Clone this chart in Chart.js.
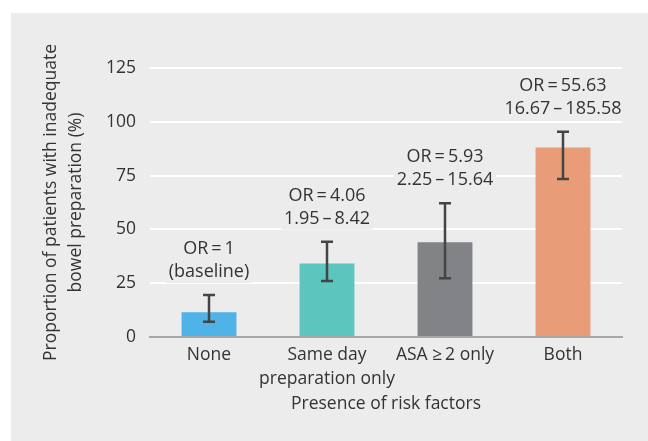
<!DOCTYPE html>
<html>
<head>
<meta charset="utf-8">
<script src="https://cdn.jsdelivr.net/npm/chart.js@4.4.1/dist/chart.umd.min.js"></script>
<style>
  html, body { margin: 0; padding: 0; background: #fff; }
  #wrap { width: 648px; height: 441px; }
</style>
</head>
<body>
<div id="wrap"><canvas id="riskChart"></canvas></div>
<script>
const categories = ['None', ['Same day', 'preparation only'], 'ASA \u2265\u20092 only', 'Both'];
const proportions = [11.5, 34.2, 44.0, 88.1];
const errLow = [7.1, 26.0, 27.3, 73.4];
const errHigh = [19.5, 44.3, 62.1, 95.4];
const orText = [
  ['OR\u2009=\u20091', '(baseline)'],
  ['OR\u2009=\u20094.06', '1.95\u2009\u2013\u20098.42'],
  ['OR\u2009=\u20095.93', '2.25\u2009\u2013\u200915.64'],
  ['OR\u2009=\u200955.63', '16.67\u2009\u2013\u2009185.58'],
];
const barColors = ['#4fb3e7', '#5bc5be', '#828386', '#e99c78'];

const panelGrey = '#ebeceb';
const textColor = '#333333';
const fontFamily = '"Open Sans", "Noto Sans", sans-serif';

// grey panel behind the chart
const panelBg = {
  id: 'panelBg',
  beforeDraw(chart) {
    const c = chart.ctx;
    c.save();
    c.fillStyle = '#ffffff';
    c.fillRect(0, 0, chart.width, chart.height);
    c.fillStyle = panelGrey;
    c.fillRect(11, 13, chart.width - 11, chart.height - 13);
    c.restore();
  }
};

// error bars + OR labels above them
const errorBars = {
  id: 'errorBars',
  afterDatasetsDraw(chart) {
    const c = chart.ctx;
    const y = chart.scales.y;
    const meta = chart.getDatasetMeta(0);
    c.save();
    meta.data.forEach((bar, i) => {
      const top = y.getPixelForValue(errHigh[i]);
      const bot = y.getPixelForValue(errLow[i]);
      c.strokeStyle = '#444444';
      c.lineWidth = 2.5;
      c.beginPath();
      c.moveTo(bar.x, top); c.lineTo(bar.x, bot);
      c.moveTo(bar.x - 6, top); c.lineTo(bar.x + 6, top);
      c.moveTo(bar.x - 6, bot); c.lineTo(bar.x + 6, bot);
      c.stroke();

      c.font = '18px ' + fontFamily;
      c.textAlign = 'center';
      c.textBaseline = 'middle';
      const lines = orText[i];
      lines.forEach((t, k) => {
        const ly = top - 23 - (lines.length - 1 - k) * 23;
        const w = c.measureText(t).width;
        c.fillStyle = panelGrey;
        c.fillRect(bar.x - w / 2 - 3, ly - 11, w + 6, 22);
        c.fillStyle = textColor;
        c.fillText(t, bar.x, ly);
      });
    });
    c.restore();
  }
};

const riskData = {
  labels: categories,
  datasets: [{
    data: proportions,
    backgroundColor: barColors,
    borderWidth: 0,
    barPercentage: 0.93,
    categoryPercentage: 0.5,
  }]
};

const riskConfig = {
  type: 'bar',
  data: riskData,
  options: {
    responsive: true,
    maintainAspectRatio: false,
    animation: false,
    layout: { padding: { left: 0, right: 26, top: 68, bottom: 0 } },
    plugins: {
      legend: { display: false },
      tooltip: { enabled: false },
    },
    scales: {
      y: {
        min: 0,
        max: 125,
        ticks: {
          stepSize: 25,
          color: textColor,
          padding: 14,
          font: { family: fontFamily, size: 17.5 },
        },
        grid: { color: '#ffffff', lineWidth: 2, drawTicks: false },
        border: { display: false },
        title: {
          display: true,
          text: ['Proportion of patients with inadequate', 'bowel preparation (%)'],
          color: textColor,
          font: { family: fontFamily, size: 17.5, lineHeight: 1.4 },
          padding: { top: 39, bottom: 0 },
        },
        afterFit: (scale) => { scale.width = 150; },
      },
      x: {
        ticks: {
          color: textColor,
          padding: 6,
          maxRotation: 0,
          minRotation: 0,
          autoSkip: false,
          font: { family: fontFamily, size: 17.5, lineHeight: 1.37 },
        },
        grid: { display: false, drawTicks: false },
        border: { display: true, color: '#a7a7a7', width: 2 },
        title: {
          display: true,
          text: 'Presence of risk factors',
          color: textColor,
          font: { family: fontFamily, size: 17.5, lineHeight: 1.37 },
          padding: { top: 0, bottom: 25 },
        },
        afterFit: (scale) => { scale.height = 104; },
      }
    }
  },
  plugins: [panelBg, errorBars]
};

const riskChart = new Chart(document.getElementById('riskChart').getContext('2d'), riskConfig);
</script>
</body>
</html>
